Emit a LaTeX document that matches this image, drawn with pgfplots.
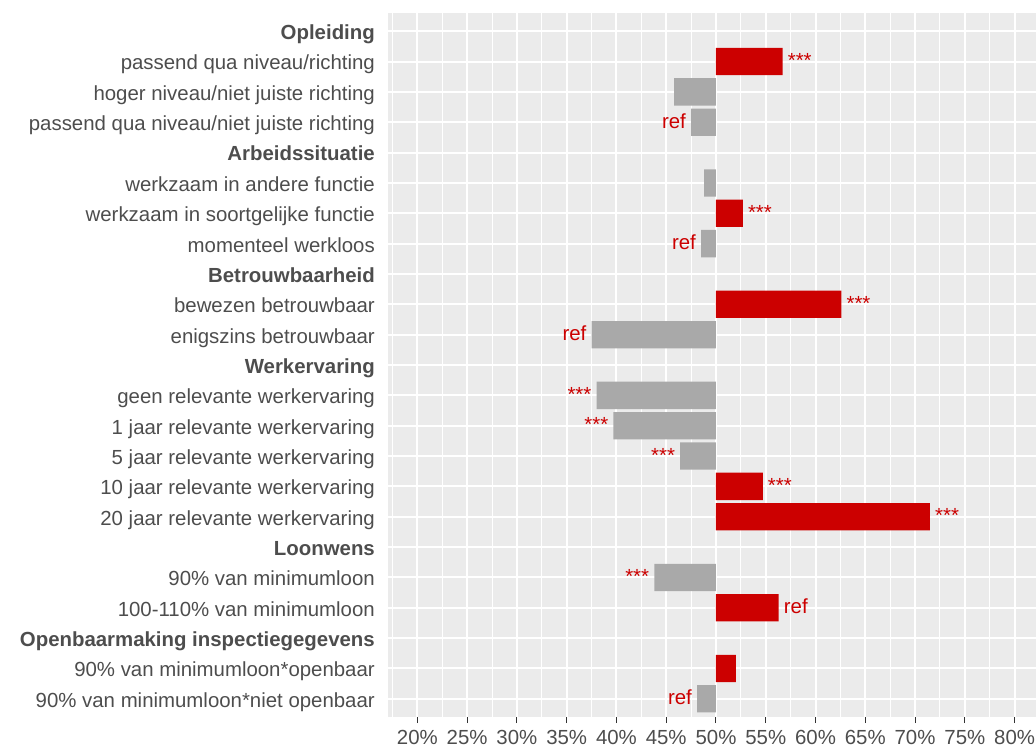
\documentclass[border=0pt]{standalone}
\usepackage{pgfplots}
\pgfplotsset{compat=1.18}
\usepackage{pgfplotstable}
\usepackage{fontspec}
\setmainfont{Liberation Sans}
\definecolor{barred}{HTML}{CC0000}
\definecolor{bargray}{HTML}{A9A9A9}
\definecolor{panelbg}{HTML}{EBEBEB}
\definecolor{txt}{HTML}{4D4D4D}
\definecolor{tickc}{HTML}{333333}

\pgfplotstableread{
y x lab
1 56.7 ***
6 52.7 ***
9 62.6 ***
15 54.7 ***
16 71.5 ***
19 56.3 ref
21 52.0 {}
}\redbars

\pgfplotstableread{
y x lab
2 45.8 {}
3 47.5 ref
5 48.8 {}
7 48.5 ref
10 37.5 ref
12 38.0 ***
13 39.7 ***
14 46.4 ***
18 43.8 ***
22 48.1 ref
}\graybars

\newcommand{\lblfont}{\fontsize{20.4}{24}\selectfont}

\begin{document}
\begin{tikzpicture}
\useasboundingbox (0,0) rectangle (1036pt,747pt);
\begin{axis}[
  at={(388pt,30pt)}, anchor=south west,
  width=648pt, height=704pt, scale only axis,
  xmin=-32.95, xmax=32.15,
  ymin=-0.6, ymax=22.6, y dir=reverse,
  axis background/.style={fill=panelbg},
  axis line style={draw=none},
  xtick={-30,-25,...,30},
  xticklabels={20\%,25\%,30\%,35\%,40\%,45\%,50\%,55\%,60\%,65\%,70\%,75\%,80\%},
  minor xtick={-32.5,-27.5,...,27.5},
  ytick={0,...,22},
  yticklabels={\textbf{Opleiding}, passend qua niveau/richting, hoger niveau/niet juiste richting, passend qua niveau/niet juiste richting, \textbf{Arbeidssituatie}, werkzaam in andere functie, werkzaam in soortgelijke functie, momenteel werkloos, \textbf{Betrouwbaarheid}, bewezen betrouwbaar, enigszins betrouwbaar, \textbf{Werkervaring}, geen relevante werkervaring, 1 jaar relevante werkervaring, 5 jaar relevante werkervaring, 10 jaar relevante werkervaring, 20 jaar relevante werkervaring, \textbf{Loonwens}, 90\% van minimumloon, 100-110\% van minimumloon, \textbf{Openbaarmaking inspectiegegevens}, 90\% van minimumloon*openbaar, 90\% van minimumloon*niet openbaar},
  xtick pos=bottom, ytick pos=left,
  tick align=outside,
  major tick length=6pt,
  minor tick length=0pt,
  xtick style={draw=tickc, line width=1pt},
  ytick style={draw=none},
  xmajorgrids, ymajorgrids, xminorgrids,
  major grid style={draw=white, line width=2pt},
  minor grid style={draw=white, line width=1pt},
  xticklabel style={font=\lblfont, color=txt, inner sep=0pt, anchor=base, yshift=-21pt},
  yticklabel style={font=\lblfont, color=txt, inner sep=0pt, anchor=base east, xshift=-7pt, yshift=-8.4pt},
  xbar, bar width=0.9, bar shift=0pt,
  nodes near coords,
  point meta=explicit symbolic,
  clip=false,
]
\addplot[fill=barred, draw=none, x filter/.expression={x-50},
  every node near coord/.append style={font=\lblfont, color=barred, anchor=base west, inner sep=0pt, xshift=5pt, yshift=-6pt}]
  table[x=x, y=y, meta=lab] {\redbars};
\addplot[fill=bargray, draw=none, x filter/.expression={x-50},
  every node near coord/.append style={font=\lblfont, color=barred, anchor=base east, inner sep=0pt, xshift=-5pt, yshift=-6pt}]
  table[x=x, y=y, meta=lab] {\graybars};
\end{axis}
\end{tikzpicture}
\end{document}
